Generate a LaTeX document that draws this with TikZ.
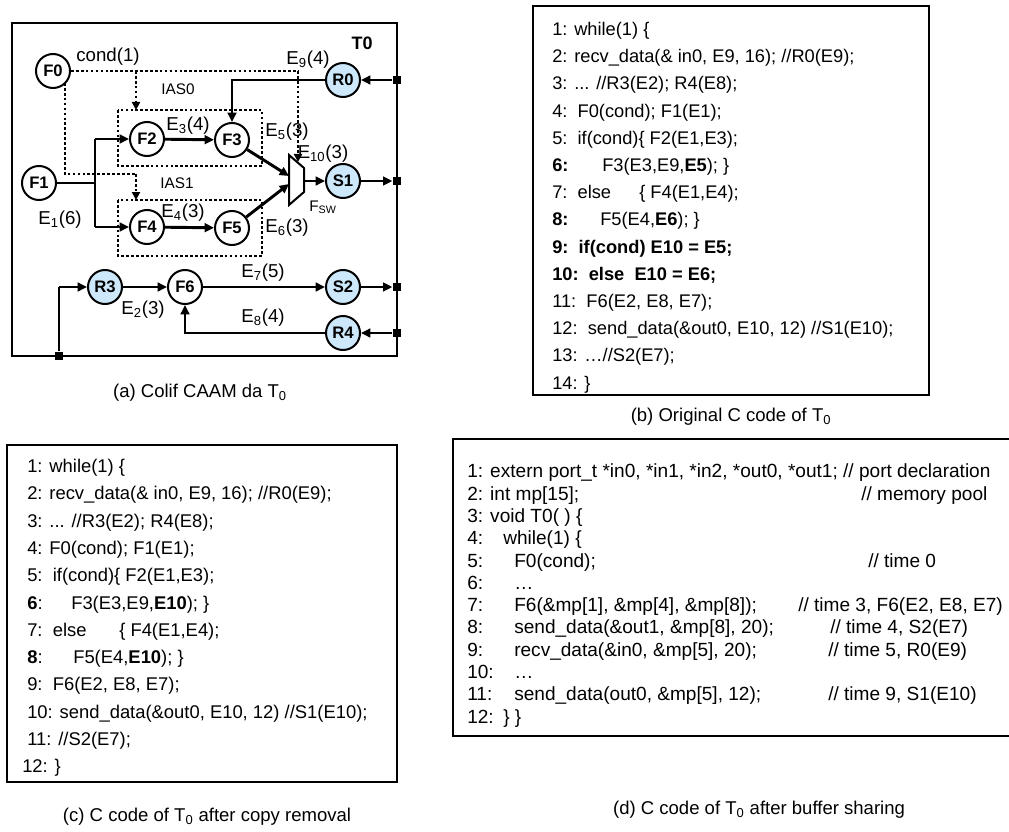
\documentclass[tikz,border=0pt]{standalone}
\usepackage{fontspec}
\setmainfont{Liberation Sans}
\usetikzlibrary{arrows.meta}
\definecolor{nodeblue}{RGB}{204,232,250}
\tikzset{
  fn/.style={circle,draw,line width=1.5pt,minimum size=25.5pt,inner sep=0pt,fill=white,
    font=\fontsize{12.5}{14}\selectfont\bfseries},
  io/.style={fn,fill=nodeblue},
  edge/.style={line width=2.2pt},
  arr/.style={edge,-{Triangle[length=7pt,width=6.5pt]}},
  dotl/.style={line width=2.2pt,dash pattern=on 2pt off 1.7pt},
  darr/.style={dotl,-{Triangle[length=6pt,width=6pt]}},
  port/.style={rectangle,fill=black,minimum size=6.5pt,inner sep=0pt},
  lbl/.style={inner sep=0pt,font=\fontsize{14}{16}\selectfont},
  slbl/.style={inner sep=0pt,font=\fontsize{11.5}{13}\selectfont},
  codeb/.style={anchor=base west,inner sep=0pt,font=\fontsize{13.7}{16}\selectfont},
  codec/.style={anchor=base west,inner sep=0pt,font=\fontsize{13.8}{16}\selectfont},
  coded/.style={anchor=base west,inner sep=0pt,font=\fontsize{14.3}{16}\selectfont},
  captxt/.style={inner sep=0pt,font=\fontsize{13.9}{16}\selectfont},
  codebox/.style={line width=1.5pt}
}
\begin{document}
\begin{tikzpicture}[x=0.75pt,y=-0.75pt]
\useasboundingbox (0,0) rectangle (1009,831);
% ================= (a) =================
\draw[line width=2.2pt] (12,23) rectangle (397,356);
\node[inner sep=0pt,font=\fontsize{13.5}{15}\selectfont\bfseries] (t0) at (362,43) {T0};
% IAS boxes
\draw[dotl] (118,110) rectangle (262,166);
\draw[dotl] (118,200) rectangle (262,256);
% nodes
\node[fn] (F0) at (53,71) {F0};
\node[fn] (F1) at (39,183) {F1};
\node[fn] (F2) at (147,139) {F2};
\node[fn] (F3) at (232,140) {F3};
\node[fn] (F4) at (147,227) {F4};
\node[fn] (F5) at (232,228) {F5};
\node[fn] (F6) at (185,287) {F6};
\node[io] (R0) at (343,80) {R0};
\node[io] (S1) at (343,181) {S1};
\node[io] (S2) at (343,287) {S2};
\node[io] (R3) at (105,287) {R3};
\node[io] (R4) at (343,333) {R4};
% ports
\node[port] (p0) at (397,80) {};
\node[port] (p1) at (397,181) {};
\node[port] (p2) at (397,287) {};
\node[port] (p4) at (397,333) {};
\node[port] (pb) at (59,356) {};
% mux
\coordinate (mA) at (289,155);
\coordinate (mB) at (304,168);
\coordinate (mC) at (304,192);
\coordinate (mD) at (289,205);
\draw[line width=1.5pt,fill=white] (mA) -- (mB) -- (mC) -- (mD) -- cycle;
\coordinate (mIn1) at (289,176);
\coordinate (mIn2) at (289,184);
\coordinate (mOut) at (304,181);
\coordinate (mTop) at (298,162);
% junctions
\coordinate (j1) at (95,183);
\coordinate (j2) at (95,139);
\coordinate (j3) at (95,227);
\draw[edge] (F1) -- (j1);
\draw[edge] (j2) -- (j3);
\draw[arr] (j2) -- (F2);
\draw[arr] (j3) -- (F4);
\draw[arr] (F2) -- (F3);
\draw[arr] (F4) -- (F5);
\draw[arr] (F3) -- (mIn1);
\draw[arr] (F5) -- (mIn2);
\draw[arr] (mOut) -- (S1);
\draw[arr] (S1) -- (p1);
\draw[arr] (p0) -- (R0);
\draw[arr] (R0) -| (F3);
% dotted control
\coordinate (d1) at (298,71);
\coordinate (d2) at (136,71);
\coordinate (d3) at (136,110);
\coordinate (d4) at (65,83);
\coordinate (d5) at (65,174);
\coordinate (d6) at (136,174);
\coordinate (d7) at (136,200);
\draw[dotl] (F0.east) -- (d1);
\draw[darr] (d1) -- (mTop);
\draw[darr] (d2) -- (d3);
\draw[dotl] (d4) -- (d5) -- (d6);
\draw[darr] (d6) -- (d7);
% bottom part
\coordinate (bb1) at (59,287);
\draw[edge] (pb) -- (bb1);
\draw[arr] (bb1) -- (R3);
\draw[arr] (R3) -- (F6);
\draw[arr] (F6) -- (S2);
\draw[arr] (S2) -- (p2);
\draw[arr] (p4) -- (R4);
\draw[arr] (R4) -| (F6);
% labels
\node[lbl] (lcond) at (108,57) {cond(1)};
\node[lbl] (le9) at (308,60) {E\textsubscript{9}(4)};
\node[slbl] (lias0) at (178,89) {IAS0};
\node[slbl] (lias1) at (177,183) {IAS1};
\node[lbl] (le3) at (188,126) {E\textsubscript{3}(4)};
\node[lbl] (le5) at (287,132) {E\textsubscript{5}(3)};
\node[lbl] (le10) at (323,154) {E\textsubscript{10}(3)};
\node[slbl] (lfsw) at (323,207) {F\textsubscript{SW}};
\node[lbl] (le4) at (183,213) {E\textsubscript{4}(3)};
\node[lbl] (le6) at (287,228) {E\textsubscript{6}(3)};
\node[lbl] (le1) at (60,220) {E\textsubscript{1}(6)};
\node[lbl] (le7) at (263,273) {E\textsubscript{7}(5)};
\node[lbl] (le2) at (143,310) {E\textsubscript{2}(3)};
\node[lbl] (le8) at (263,318) {E\textsubscript{8}(4)};
\node[captxt] (capa) at (200,393) {(a) Colif CAAM da T\textsubscript{0}};
% ================= (b) =================
\draw[codebox] (533,6) rectangle (929,395);
\node[codeb] (b1) at (552,35.5) {1: while(1) \{};
\node[codeb] (b2) at (552,62.7) {2: recv\_data(\& in0, E9, 16); //R0(E9);};
\node[codeb] (b3) at (552,89.9) {3: ... //R3(E2); R4(E8);};
\node[codeb] (b4) at (552,117.1) {4:\ \ F0(cond); F1(E1);};
\node[codeb] (b5) at (552,144.3) {5:\ \ if(cond)\{ F2(E1,E3);};
\node[codeb] (b6) at (552,171.5) {\textbf{6:}};
\node[codeb] (b6c) at (602,171.5) {F3(E3,E9,\textbf{E5}); \}};
\node[codeb] (b7) at (552,198.7) {7:\ \ else};
\node[codeb] (b7c) at (639,198.7) {\{ F4(E1,E4);};
\node[codeb] (b8) at (552,225.9) {\textbf{8:}};
\node[codeb] (b8c) at (600,225.9) {F5(E4,\textbf{E6}); \}};
\node[codeb] (b9) at (552,253.1) {\textbf{9:\ \ if(cond) E10 = E5;}};
\node[codeb] (b10) at (552,280.3) {\textbf{10:\ \ else\ \ E10 = E6;}};
\node[codeb] (b11) at (552,307.5) {11:\ \ F6(E2, E8, E7);};
\node[codeb] (b12) at (552,334.7) {12:\ \ send\_data(\&out0, E10, 12) //S1(E10);};
\node[codeb] (b13) at (552,361.9) {13: …//S2(E7);};
\node[codeb] (b14) at (552,389.1) {14: \}};
\node[captxt] (capb) at (731,417) {(b) Original C code of T\textsubscript{0}};
% ================= (c) =================
\draw[codebox] (7,445) rectangle (397,782);
\node[codec] (c1) at (27,472.5) {1: while(1) \{};
\node[codec] (c2) at (27,499.8) {2: recv\_data(\& in0, E9, 16); //R0(E9);};
\node[codec] (c3) at (27,527.1) {3: ... //R3(E2); R4(E8);};
\node[codec] (c4) at (27,554.4) {4: F0(cond); F1(E1);};
\node[codec] (c5) at (27,581.7) {5:\ \ if(cond)\{ F2(E1,E3);};
\node[codec] (c6) at (27,609) {\textbf{6}:};
\node[codec] (c6c) at (71,609) {F3(E3,E9,\textbf{E10}); \}};
\node[codec] (c7) at (27,636.3) {7:\ \ else};
\node[codec] (c7c) at (119,636.3) {\{ F4(E1,E4);};
\node[codec] (c8) at (27,663.6) {\textbf{8}:};
\node[codec] (c8c) at (73,663.6) {F5(E4,\textbf{E10}); \}};
\node[codec] (c9) at (27,690.9) {9:\ \ F6(E2, E8, E7);};
\node[codec] (c10) at (27,718.2) {10: send\_data(\&out0, E10, 12) //S1(E10);};
\node[codec] (c11) at (27,745.5) {11: //S2(E7);};
\node[codec] (c12) at (22,772.8) {12: \}};
\node[captxt] (capc) at (207,817) {(c) C code of T\textsubscript{0} after copy removal};
% ================= (d) =================
\draw[codebox] (1030,439) -- (453,439) -- (453,736) -- (1030,736);
\node[coded] (d1) at (467,477.8) {1: extern port\_t *in0, *in1, *in2, *out0, *out1; // port declaration};
\node[coded] (d2) at (467,500.1) {2: int mp[15];};
\node[coded] (d2m) at (861,500.1) {// memory pool};
\node[coded] (d3) at (467,522.4) {3: void T0( ) \{};
\node[coded] (d4) at (467,544.7) {4:};
\node[coded] (d4c) at (503,544.7) {while(1) \{};
\node[coded] (d5) at (467,567) {5:};
\node[coded] (d5c) at (514,567) {F0(cond);};
\node[coded] (d5m) at (868,567) {// time 0};
\node[coded] (d6) at (467,589.3) {6:};
\node[coded] (d6c) at (514,589.3) {…};
\node[coded] (d7) at (467,611.6) {7:};
\node[coded] (d7c) at (514,611.6) {F6(\&mp[1], \&mp[4], \&mp[8]);};
\node[coded] (d7m) at (798,611.6) {// time 3, F6(E2, E8, E7)};
\node[coded] (d8) at (467,633.9) {8:};
\node[coded] (d8c) at (514,633.9) {send\_data(\&out1, \&mp[8], 20);};
\node[coded] (d8m) at (830,633.9) {// time 4, S2(E7)};
\node[coded] (d9) at (467,656.2) {9:};
\node[coded] (d9c) at (514,656.2) {recv\_data(\&in0, \&mp[5], 20);};
\node[coded] (d9m) at (828,656.2) {// time 5, R0(E9)};
\node[coded] (d10) at (467,678.5) {10:};
\node[coded] (d10c) at (514,678.5) {…};
\node[coded] (d11) at (467,700.8) {11:};
\node[coded] (d11c) at (514,700.8) {send\_data(out0, \&mp[5], 12);};
\node[coded] (d11m) at (828,700.8) {// time 9, S1(E10)};
\node[coded] (d12) at (467,723.1) {12:};
\node[coded] (d12c) at (503,723.1) {\} \}};
\node[captxt] (capd) at (759,810) {(d) C code of T\textsubscript{0} after buffer sharing};
\end{tikzpicture}
\end{document}
